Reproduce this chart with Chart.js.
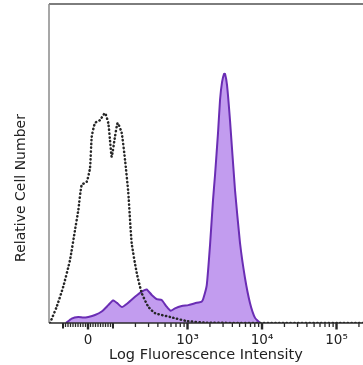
<!DOCTYPE html>
<html>
<head>
<meta charset="utf-8">
<script src="https://cdn.jsdelivr.net/npm/chart.js@4.4.0/dist/chart.umd.min.js"></script>
<style>
  html, body { margin: 0; padding: 0; background: #fff; }
</style>
</head>
<body>
<canvas id="chart" width="363" height="365"></canvas>
<script>
// x values are in display decades (0 = zero, biexponential-like axis), y = relative count
const controlX = [-0.510, -0.420, -0.332, -0.242, -0.174, -0.130, -0.085, -0.017, 0.027, 0.050, 0.094, 0.161, 0.228, 0.272, 0.295, 0.318, 0.362, 0.398, 0.452, 0.497, 0.541, 0.586, 0.654, 0.721, 0.809, 0.899, 1.101, 1.329, 1.597, 2.309, 3.69];
const controlY = [0, 5.1, 11.4, 19.7, 29.2, 35.4, 43.3, 44.3, 48.6, 58.4, 62.7, 63.6, 65.8, 62.7, 57.4, 52.1, 58.4, 62.7, 59.6, 51.1, 40.8, 25.1, 15.7, 9.4, 5.1, 3.1, 1.9, 0.6, 0.1, 0, 0];

const stainedX = [-0.295, -0.219, -0.130, -0.063, 0.004, 0.094, 0.184, 0.272, 0.336, 0.389, 0.456, 0.537, 0.631, 0.711, 0.788, 0.855, 0.922, 0.989, 1.056, 1.110, 1.168, 1.258, 1.346, 1.436, 1.526, 1.548, 1.594, 1.638, 1.678, 1.705, 1.745, 1.772, 1.799, 1.826, 1.839, 1.866, 1.906, 1.973, 2.040, 2.107, 2.174, 2.242, 2.309];
const stainedY = [0, 1.4, 1.9, 1.7, 1.9, 2.5, 3.6, 5.6, 7.1, 6.3, 5.0, 6.3, 8.2, 9.7, 10.5, 8.8, 7.5, 7.2, 5.1, 3.8, 4.6, 5.3, 5.6, 6.2, 6.7, 7.7, 11.9, 24.5, 38.6, 46.4, 59.6, 69.9, 75.5, 78.1, 78.1, 74.6, 63.5, 41.7, 25.1, 14.1, 6.3, 1.6, 0];

const majorTickValues = [0, 1e3, 1e4, 1e5];
const majorTickLabels = ['0', '10³', '10⁴', '10⁵'];

// fluorescence value -> display decades
function toDisplay(v) {
  const lin = 0.3356;
  if (Math.abs(v) <= 100) return v / 100 * lin;
  const s = v < 0 ? -1 : 1;
  return s * (lin + Math.log10(Math.abs(v)) - 2);
}

// minor ticks
const minorTickValues = [];
for (let k = 10; k < 100; k += 10) { minorTickValues.push(k, -k); }
[100, 1000, 10000, 100000].forEach(d => {
  for (let m = 2; m <= 9; m++) minorTickValues.push(m * d);
});
const midTickValues = [-100, 100];

function toPoints(xs, ys) {
  return xs.map((x, i) => ({ x: x, y: ys[i] }));
}

const frame = {
  id: 'frame',
  afterDatasetsDraw(chart) {
    const ctx = chart.ctx;
    const a = chart.chartArea;
    const xs = chart.scales.x;
    ctx.save();
    // top + left border
    ctx.strokeStyle = '#7d7d7d';
    ctx.lineWidth = 2;
    ctx.beginPath();
    ctx.moveTo(a.left, a.top); ctx.lineTo(a.right, a.top);
    ctx.stroke();
    ctx.lineWidth = 1.5;
    ctx.strokeStyle = '#8a8a8a';
    ctx.beginPath();
    ctx.moveTo(a.left, a.top); ctx.lineTo(a.left, a.bottom);
    ctx.stroke();
    // bottom axis
    ctx.strokeStyle = '#2a2a2a';
    ctx.lineWidth = 1.6;
    ctx.beginPath();
    ctx.moveTo(a.left, a.bottom); ctx.lineTo(a.right, a.bottom);
    ctx.stroke();
    const tick = (v, len, w) => {
      const px = xs.getPixelForValue(toDisplay(v));
      if (px < a.left || px > a.right) return;
      ctx.lineWidth = w;
      ctx.beginPath();
      ctx.moveTo(px, a.bottom);
      ctx.lineTo(px, a.bottom + len);
      ctx.stroke();
    };
    minorTickValues.forEach(v => tick(v, 4, 1.3));
    midTickValues.forEach(v => tick(v, 5.5, 2));
    majorTickValues.forEach(v => tick(v, 6.5, 2.4));
    // y title
    ctx.fillStyle = '#222';
    ctx.font = '14px "DejaVu Sans"';
    ctx.textAlign = 'center';
    ctx.textBaseline = 'middle';
    ctx.translate(21, 188);
    ctx.rotate(-Math.PI / 2);
    ctx.fillText('Relative Cell Number', 0, 0);
    ctx.restore();
  }
};

new Chart(document.getElementById('chart'), {
  type: 'line',
  data: {
    datasets: [
      {
        label: 'Isotype control',
        data: toPoints(controlX, controlY),
        borderColor: '#262626',
        borderWidth: 2.5,
        borderDash: [0.3, 3.5],
        borderCapStyle: 'round',
        pointRadius: 0,
        tension: 0.15,
        fill: false
      },
      {
        label: 'Stained',
        data: toPoints(stainedX, stainedY),
        borderColor: '#6a2db4',
        backgroundColor: '#c29cef',
        borderWidth: 2,
        pointRadius: 0,
        tension: 0.15,
        fill: 'origin'
      }
    ]
  },
  options: {
    responsive: false,
    devicePixelRatio: 1,
    animation: false,
    layout: { padding: { top: 4, left: 0, right: 0, bottom: 0 } },
    plugins: { legend: { display: false }, tooltip: { enabled: false } },
    scales: {
      x: {
        type: 'linear',
        min: -0.5235,
        max: 3.691,
        afterFit(scale) { scale.height = 42; },
        afterBuildTicks(scale) {
          scale.ticks = majorTickValues.map(v => ({ value: toDisplay(v) }));
        },
        grid: { display: false, drawTicks: false },
        border: { display: false },
        ticks: {
          autoSkip: false,
          maxRotation: 0,
          padding: 9,
          color: '#222',
          font: { family: 'DejaVu Sans', size: 13.5 },
          callback(value, index) { return majorTickLabels[index]; }
        },
        title: {
          display: true,
          text: 'Log Fluorescence Intensity',
          color: '#222',
          font: { family: 'DejaVu Sans', size: 14.5 },
          padding: { top: 0, bottom: 1 }
        }
      },
      y: {
        min: 0,
        max: 100,
        afterFit(scale) { scale.width = 49; },
        grid: { display: false },
        border: { display: false },
        ticks: { display: false }
      }
    }
  },
  plugins: [frame]
});
</script>
</body>
</html>
